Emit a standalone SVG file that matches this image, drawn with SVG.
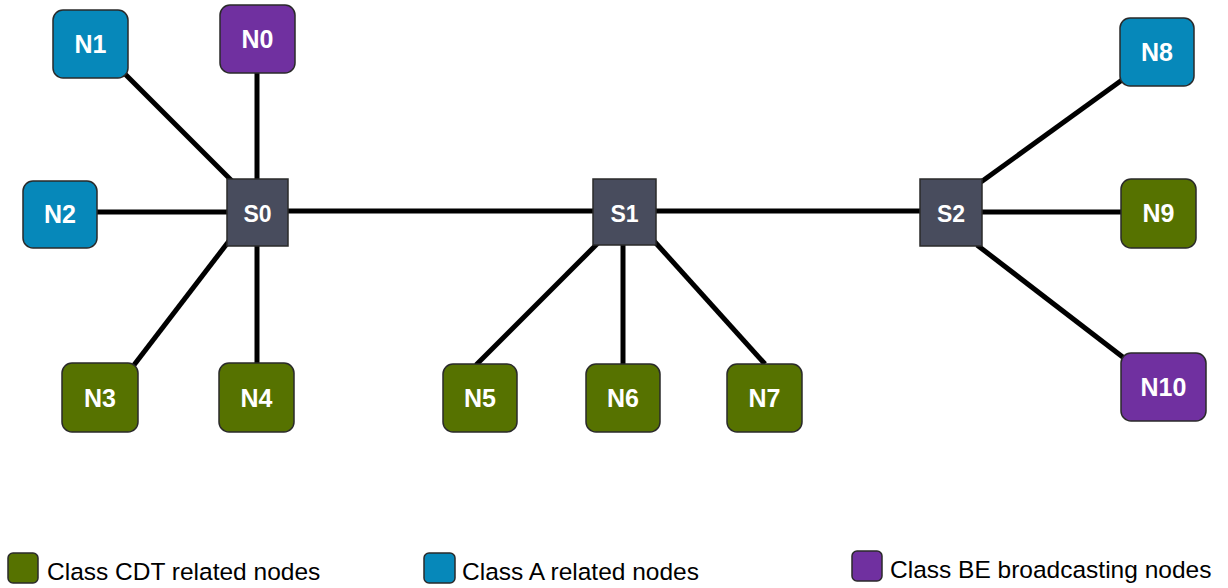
<svg xmlns="http://www.w3.org/2000/svg" width="1228" height="588" viewBox="0 0 1228 588">
<style>
.n{stroke:#2a2a2a;stroke-width:1.5}
.g{fill:#567200}
.b{fill:#0688BA}
.p{fill:#7030A0}
.s{fill:#484C5D;stroke:#2a2a2a;stroke-width:1.5}
.t{font-family:"Liberation Sans",Arial,sans-serif;font-weight:bold;font-size:25px;fill:#fff;text-anchor:middle}
.e{stroke:#000;stroke-width:5;fill:none}
.l{font-family:"Liberation Sans",Arial,sans-serif;font-size:24.5px;fill:#000}
</style>
<rect width="1228" height="588" fill="#fff"/>
<g id="connectors">
<line class="e" x1="125" y1="74" x2="232" y2="181"/>
<line class="e" x1="257" y1="73" x2="257" y2="179"/>
<line class="e" x1="97" y1="212" x2="227" y2="212"/>
<line class="e" x1="288" y1="211" x2="593" y2="211"/>
<line class="e" x1="229" y1="241" x2="134" y2="365"/>
<line class="e" x1="257" y1="246" x2="257" y2="363"/>
<line class="e" x1="598" y1="243" x2="476" y2="365"/>
<line class="e" x1="623" y1="245" x2="623" y2="364"/>
<line class="e" x1="654" y1="241" x2="765" y2="364"/>
<line class="e" x1="656" y1="211" x2="920" y2="211"/>
<line class="e" x1="981" y1="182" x2="1122" y2="80"/>
<line class="e" x1="982" y1="212" x2="1121" y2="212"/>
<line class="e" x1="977" y1="245" x2="1124" y2="358"/>
</g>
<g id="N1"><rect class="n b" x="53" y="10" width="75" height="68" rx="10"/><text class="t" x="90.5" y="53">N1</text></g>
<g id="N0"><rect class="n p" x="220" y="5" width="75" height="68" rx="10"/><text class="t" x="257.5" y="48">N0</text></g>
<g id="N2"><rect class="n b" x="23" y="181" width="74" height="67" rx="10"/><text class="t" x="60" y="223">N2</text></g>
<g id="S0"><rect class="s" x="227" y="179" width="61" height="67"/><text class="t" x="257.5" y="222" style="font-size:23px">S0</text></g>
<g id="N3"><rect class="n g" x="62" y="363" width="76" height="69" rx="10"/><text class="t" x="100" y="407">N3</text></g>
<g id="N4"><rect class="n g" x="219" y="363" width="75" height="69" rx="10"/><text class="t" x="256.5" y="407">N4</text></g>
<g id="S1"><rect class="s" x="593" y="179" width="63" height="66"/><text class="t" x="624.5" y="222" style="font-size:23px">S1</text></g>
<g id="N5"><rect class="n g" x="443" y="364" width="74" height="68" rx="10"/><text class="t" x="480" y="407">N5</text></g>
<g id="N6"><rect class="n g" x="586" y="364" width="74" height="68" rx="10"/><text class="t" x="623" y="407">N6</text></g>
<g id="N7"><rect class="n g" x="727" y="364" width="75" height="68" rx="10"/><text class="t" x="764.5" y="407">N7</text></g>
<g id="S2"><rect class="s" x="920" y="179" width="62" height="67"/><text class="t" x="951" y="222" style="font-size:23px">S2</text></g>
<g id="N8"><rect class="n b" x="1120" y="18" width="74" height="68" rx="10"/><text class="t" x="1157" y="61">N8</text></g>
<g id="N9"><rect class="n g" x="1121" y="179" width="75" height="69" rx="10"/><text class="t" x="1158.5" y="222">N9</text></g>
<g id="N10"><rect class="n p" x="1121" y="353" width="85" height="68" rx="10"/><text class="t" x="1163.5" y="396">N10</text></g>
<g id="legend">
<rect class="n g" x="8" y="553" width="30" height="30" rx="5"/><text class="l" x="47" y="580">Class CDT related nodes</text>
<rect class="n b" x="424" y="553" width="31" height="30" rx="5"/><text class="l" x="462" y="580">Class A related nodes</text>
<rect class="n p" x="852" y="551" width="30" height="30" rx="5"/><text class="l" x="890" y="578">Class BE broadcasting nodes</text>
</g>
</svg>
